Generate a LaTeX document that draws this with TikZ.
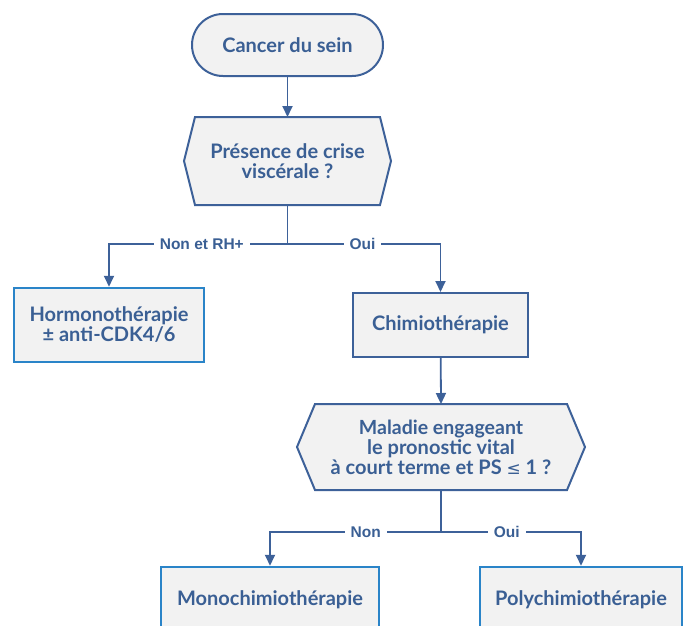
\documentclass[tikz,border=0pt]{standalone}
\usepackage{fontspec}
\setmainfont{Lato}
\newfontfamily\lblfont{Liberation Sans}
\newfontfamily\glyphfont{DejaVu Sans}
\usetikzlibrary{arrows.meta}
\definecolor{ink}{HTML}{3A5F94}
\definecolor{edge}{HTML}{3D6199}
\definecolor{boxblue}{HTML}{2A84C8}
\definecolor{boxfill}{HTML}{F2F2F2}
\tikzset{
  txt/.style={text=ink, font=\fontsize{20}{20}\selectfont\bfseries, align=center, inner sep=0pt},
  terminal/.style={txt, draw=edge, fill=boxfill, line width=2pt, rounded corners=31pt,
    minimum width=191pt, minimum height=62pt},
  hexnode/.style={txt},
  hexline/.style={draw=edge, fill=boxfill, line width=2pt, line join=miter},
  actbox/.style={txt, draw=edge, fill=boxfill, line width=2pt},
  bluebox/.style={txt, draw=boxblue, fill=boxfill, line width=2.5pt},
  conn/.style={draw=edge, line width=1.8pt},
  arr/.style={conn, -{Triangle[width=10pt,length=11pt]}},
  lbl/.style={fill=white, text=ink, font=\lblfont\fontsize{15.5}{15.5}\selectfont\bfseries, inner xsep=6pt, inner ysep=2pt}
}
\begin{document}
\begin{tikzpicture}[x=1pt, y=-1pt]
\useasboundingbox (0,0) rectangle (683,625);
\clip (0,0) rectangle (683,625);

% start
\node[terminal] (start) at (287.5,45) {Cancer du sein};

% first question (hexagon)
\path[hexline] (184,161) -- (195,117) -- (380,117) -- (391,161) -- (380,205) -- (195,205) -- cycle;
\node[hexnode] (q1) at (287.5,161) {\fontsize{20}{20}\selectfont Présence de crise\\viscérale ?};
\coordinate (q1s) at (287.5,205);
\coordinate (q1n) at (287.5,117);

% outcomes of the first question
\node[bluebox, minimum width=190pt, minimum height=74pt] (hormo) at (109,325)
  {\fontsize{20}{18.5}\selectfont Hormonothérapie\\± anti-CDK4/6};
\node[actbox, minimum width=175pt, minimum height=64pt] (chimio) at (440.5,325) {Chimiothérapie};

% second question (hexagon)
\path[hexline] (297,447) -- (315,404) -- (567,404) -- (585,447) -- (567,490) -- (315,490) -- cycle;
\node[hexnode] (q2) at (441,447) {\fontsize{19.5}{20}\selectfont Maladie engageant\\le pronostic vital\\à court terme et PS {\glyphfont\mdseries\fontsize{17}{17}\selectfont ≤} 1 ?};
\coordinate (q2n) at (441,404);
\coordinate (q2s) at (441,490);

% outcomes of the second question
\node[bluebox, minimum width=218pt, minimum height=66pt] (mono) at (270,600) {Monochimiothérapie};
\node[bluebox, minimum width=202pt, minimum height=66pt] (poly) at (581,600) {Polychimiothérapie};

% split points
\coordinate (s1) at (287.5,244);
\coordinate (s2) at (441,532);

% connectors
\draw[arr] (start) -- (q1n);
\draw[conn] (q1s) -- (s1);
\draw[arr] (s1) -| node[lbl, pos=0.24] {Non et RH+} (hormo);
\draw[arr] (s1) -| node[lbl, pos=0.245] {Oui} (chimio);
\draw[arr] (chimio) -- (q2n);
\draw[conn] (q2s) -- (s2);
\draw[arr] (s2) -| node[lbl, pos=0.22] {Non} (mono);
\draw[arr] (s2) -| node[lbl, pos=0.235] {Oui} (poly);
\end{tikzpicture}
\end{document}
